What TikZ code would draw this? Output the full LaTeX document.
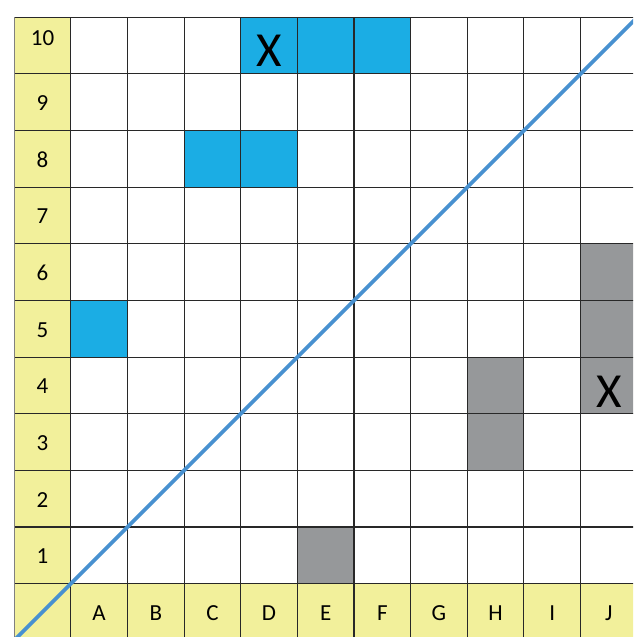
\documentclass[tikz,border=0pt]{standalone}
\usepackage{fontspec}
\setmainfont{Carlito}
\definecolor{cellblue}{RGB}{27,173,228}
\definecolor{cellgray}{RGB}{150,152,154}
\definecolor{cellyellow}{RGB}{242,240,155}
\definecolor{gridline}{RGB}{40,40,40}
\definecolor{diagblue}{RGB}{72,145,208}
\begin{document}
\begin{tikzpicture}[x=1pt,y=-1pt,
  lbl/.style={font=\fontsize{23}{27}\selectfont, text=black, inner sep=0pt},
  xmark/.style={font=\fontsize{49}{56}\selectfont, text=black, inner sep=0pt},
  gridstyle/.style={draw=gridline, line width=1.1pt},
  diag/.style={draw=diagblue, line width=3.8pt}]
\useasboundingbox (0,0) rectangle (633,637);
\clip (0,0) rectangle (633,637);
\def\xo{14.2}
\def\yo{17.3}
\def\s{56.63}
% yellow label cells
\fill[cellyellow] (\xo,\yo) rectangle ({\xo+\s},{\yo+11*\s});
\fill[cellyellow] (\xo,{\yo+10*\s}) rectangle ({\xo+11*\s},{\yo+11*\s});
% blue cells
\foreach \i/\j in {4/0,5/0,6/0,3/2,4/2,1/5}
  \fill[cellblue] ({\xo+\i*\s},{\yo+\j*\s}) rectangle ({\xo+(\i+1)*\s},{\yo+(\j+1)*\s});
% gray cells
\foreach \i/\j in {10/4,10/5,10/6,8/6,8/7,5/9}
  \fill[cellgray] ({\xo+\i*\s},{\yo+\j*\s}) rectangle ({\xo+(\i+1)*\s},{\yo+(\j+1)*\s});
% grid
\foreach \k in {0,...,11} {
  \draw[gridstyle] ({\xo+\k*\s},\yo) -- ({\xo+\k*\s},{\yo+11*\s});
  \draw[gridstyle] (\xo,{\yo+\k*\s}) -- ({\xo+11*\s},{\yo+\k*\s});
}
\draw[draw=gray, line width=1.1pt] (\xo,\yo) -- (\xo,{\yo+11*\s});
% row labels
\node[lbl] (r10) at ({\xo+0.5*\s},{\yo+0.5*\s-8}) {10};
\foreach \n [evaluate=\n as \j using 10-\n] in {1,...,9}
  \node[lbl] (r\n) at ({\xo+0.5*\s},{\yo+(\j+0.5)*\s+1}) {\n};
% column labels
\foreach \c [count=\i] in {A,B,C,D,E,F,G,H,I,J}
  \node[lbl] (c\c) at ({\xo+(\i+0.5)*\s},{\yo+10.5*\s+1}) {\c};
% X marks
\node[xmark] (xd10) at ({\xo+4.5*\s},{\yo+0.5*\s+5}) {X};
\node[xmark] (xj4) at ({\xo+10.5*\s},{\yo+6.5*\s+6}) {X};
% diagonal
\coordinate (dA) at ({\xo+\s-80},{\yo+10*\s+80});
\coordinate (dB) at ({\xo+10*\s+80},{\yo+\s-80});
\draw[diag] (dA) -- (dB);
\end{tikzpicture}
\end{document}
